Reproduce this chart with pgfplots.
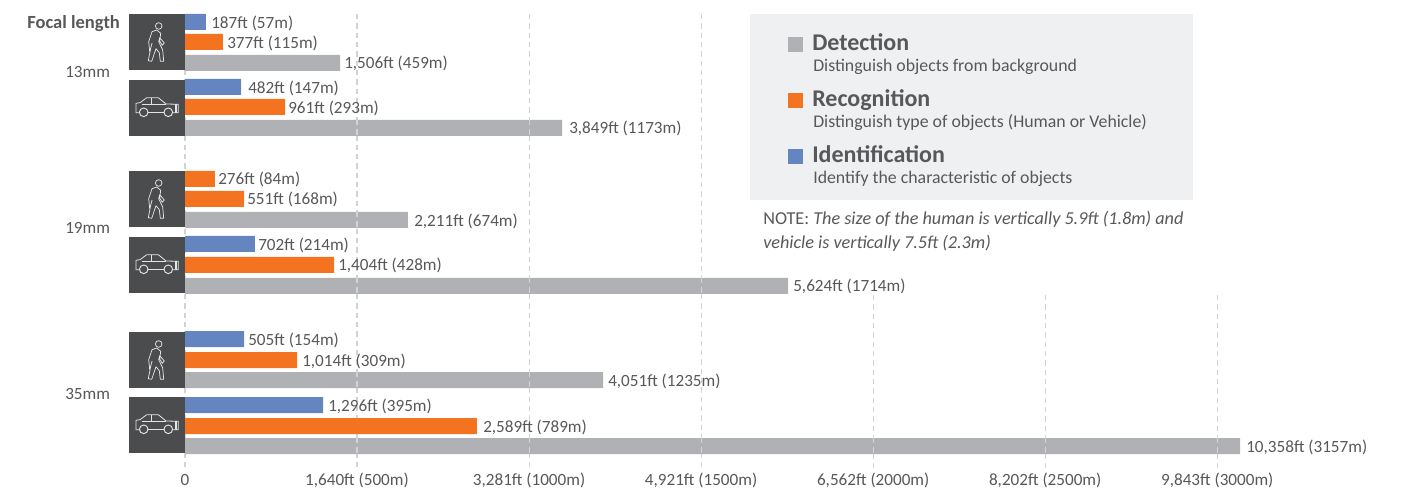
\documentclass[border=0pt]{standalone}
\usepackage{pgfplots}
\pgfplotsset{compat=1.18}
\usepackage{fontspec}
\setmainfont{Carlito}
\definecolor{cblue}{HTML}{6585C1}
\definecolor{corange}{HTML}{F47320}
\definecolor{cgrey}{HTML}{B0B1B4}
\definecolor{cdark}{HTML}{4B4C4E}
\definecolor{ctext}{HTML}{58585A}
\definecolor{cpanel}{HTML}{EFF0F2}
\definecolor{cgrid}{HTML}{D2D3D5}
\newcommand\lblfont{\fontsize{12.85pt}{15pt}\selectfont\color{ctext}}
\newcommand\subfont{\fontsize{13.35pt}{15pt}\selectfont}
\newcommand\notefont{\fontsize{13.65pt}{15pt}\selectfont}
\newcommand\Txt[3]{\node[anchor=base west,inner sep=0pt,font=\lblfont] at ({#1*0.75pt},{(491-#2-0.7)*0.75pt}) {#3};}
\newcommand\Person[2]{\begin{scope}[shift={({#1*0.75pt},{(491-#2)*0.75pt})},x=0.75pt,y=-0.75pt]
\fill[cdark] (0,0) rectangle (56,56);
\draw[white!90!black,line width=0.55pt,line join=round] (29.7,12) circle (3.3);
\draw[white!90!black,line width=0.55pt,line join=round] (27.7,16)--(23,17.7)--(19.7,27.7)--(20.7,37.7)--(23,29.3)--(21.7,34.3)--(19.3,46.7)--(22.7,47.3)--(27,34.7)--(30.3,38.7)--(31.3,47.3)--(34.7,47.3)--(33.7,36)--(29.7,27.7)--(30.7,23.7)--(35.3,29)--(33.3,31.3)--(30.7,27)--(31.7,19.3)--cycle;
\end{scope}}
\newcommand\Car[2]{\begin{scope}[shift={({#1*0.75pt},{(491-#2)*0.75pt})},x=0.75pt,y=-0.75pt]
\fill[cdark] (0,0) rectangle (56,56);
\draw[white!90!black,line width=0.6pt,line join=round] (10.2,32.7)--(7,32.7)--(7,23.3)--(11,22.7)--(17.7,17.7)--(29.3,17.7)--(37,24)--(49.3,24.3)--(49.3,32.7)--(44,32.7);
\draw[white!90!black,line width=0.6pt] (19.2,32.7)--(34.8,32.7) (12.7,24)--(37,24) (22.7,18)--(22.7,24) (46,24.3)--(46,32.7) (47.6,24.3)--(47.6,32.7);
\draw[white!90!black,line width=0.7pt] (14.7,32.3) circle (4.3) (39.3,32.3) circle (4.3);
\end{scope}}
\begin{document}
\begin{tikzpicture}
\path[use as bounding box] (0,0) rectangle (1050.75pt,368.25pt);
% Bar lengths are read off the drawn bars against the gridlines; the printed labels
% give the nominal figures, and the reference's bars are not exactly to scale with them.
\begin{axis}[
  at={(0,0)},anchor=south west,
  scale only axis,width=1050.75pt,height=368.25pt,
  xmin=-1764.1,xmax=11595.3,
  ymin=0,ymax=491,y dir=reverse,
  axis line style={draw=none},
  tick style={draw=none},
  ytick=\empty,
  scaled x ticks=false,
  xtick={0,1640,3281,4921,6562,8202,9843},
  xticklabels={0,{1,640ft (500m)},{3,281ft (1000m)},{4,921ft (1500m)},{6,562ft (2000m)},{8,202ft (2500m)},{9,843ft (3000m)}},
  x tick label style={font=\lblfont,anchor=base,yshift=3.9pt,inner sep=0pt},
  clip=false,unbounded coords=jump,
]
\addplot[cgrid,line width=0.8pt,dash pattern=on 4pt off 3pt] coordinates {(0,14)(0,470)};
\addplot[cgrid,line width=0.8pt,dash pattern=on 4pt off 3pt] coordinates {(1640,14)(1640,470)};
\addplot[cgrid,line width=0.8pt,dash pattern=on 4pt off 3pt] coordinates {(3281,14)(3281,470)};
\addplot[cgrid,line width=0.8pt,dash pattern=on 4pt off 3pt] coordinates {(4921,14)(4921,470)};
\addplot[cgrid,line width=0.8pt,dash pattern=on 4pt off 3pt] coordinates {(6562,295)(6562,470)};
\addplot[cgrid,line width=0.8pt,dash pattern=on 4pt off 3pt] coordinates {(8202,295)(8202,470)};
\addplot[cgrid,line width=0.8pt,dash pattern=on 4pt off 3pt] coordinates {(9843,295)(9843,470)};
\addplot[xbar,bar shift=0pt,bar width=12pt,draw=none,fill=cblue] coordinates {(200,22)(534,87)(667,244)(563,339)(1316,405)};
\addplot[xbar,bar shift=0pt,bar width=12pt,draw=none,fill=corange] coordinates {(362,42)(954,107)(286,179)(563,199)(1421,265)(1068,360)(2784,426)};
\addplot[xbar,bar shift=0pt,bar width=12pt,draw=none,fill=cgrey] coordinates {(1478,63)(3595,128)(2126,220)(5750,286)(3986,380)(10060,446)};
\addplot[cgrid,line width=0.8pt,dash pattern=on 4pt off 3pt] coordinates {(1640,120)(1640,136)(1640,nan)(3281,120)(3281,136)(3281,nan)(1640,212)(1640,228)(1640,nan)(1640,278)(1640,294)(1640,nan)(3281,278)(3281,294)(3281,nan)(4921,278)(4921,294)(4921,nan)(1640,372)(1640,388)(1640,nan)(3281,372)(3281,388)(3281,nan)(1640,438)(1640,454)(1640,nan)(3281,438)(3281,454)(3281,nan)(4921,438)(4921,454)(4921,nan)(6562,438)(6562,454)(6562,nan)(8202,438)(8202,454)(8202,nan)(9843,438)(9843,454)};
\end{axis}
\Person{129}{14}\Car{129}{80}\Person{129}{171}\Car{129}{237}\Person{129}{332}\Car{129}{397}
\Txt{211}{28}{187ft (57m)}\Txt{227}{48}{377ft (115m)}\Txt{344}{68}{1,506ft (459m)}
\Txt{248}{93}{482ft (147m)}\Txt{288}{113}{961ft (293m)}\Txt{569}{133}{3,849ft (1173m)}
\Txt{218}{184}{276ft (84m)}\Txt{247}{204}{551ft (168m)}\Txt{414}{226}{2,211ft (674m)}
\Txt{258}{250}{702ft (214m)}\Txt{338}{270}{1,404ft (428m)}\Txt{793}{291}{5,624ft (1714m)}
\Txt{248}{345}{505ft (154m)}\Txt{302}{366}{1,014ft (309m)}\Txt{608}{386}{4,051ft (1235m)}
\Txt{328}{411}{1,296ft (395m)}\Txt{483}{432}{2,589ft (789m)}\Txt{1246}{452}{10,358ft (3157m)}
\Txt{27}{28}{\fontsize{13.9pt}{15pt}\selectfont\bfseries Focal length}
\Txt{65}{77}{13mm}\Txt{65}{233}{19mm}\Txt{65}{399}{35mm}
\fill[cpanel] ({750*0.75pt},{(491-14)*0.75pt}) rectangle ({1193*0.75pt},{(491-200)*0.75pt});
\fill[cgrey] ({788*0.75pt},{(491-37)*0.75pt}) rectangle ({803*0.75pt},{(491-52)*0.75pt});
\fill[corange] ({788*0.75pt},{(491-93)*0.75pt}) rectangle ({803*0.75pt},{(491-108)*0.75pt});
\fill[cblue] ({788*0.75pt},{(491-149)*0.75pt}) rectangle ({803*0.75pt},{(491-164)*0.75pt});
\Txt{812}{50}{\fontsize{18pt}{20pt}\selectfont\bfseries Detection}
\Txt{813}{71}{\subfont Distinguish objects from background}
\Txt{812}{106}{\fontsize{18pt}{20pt}\selectfont\bfseries Recognition}
\Txt{813}{127}{\subfont Distinguish type of objects (Human or Vehicle)}
\Txt{812}{162}{\fontsize{18pt}{20pt}\selectfont\bfseries Identification}
\Txt{813}{183}{\subfont Identify the characteristic of objects}
\Txt{763}{224}{\notefont NOTE: \itshape The size of the human is vertically 5.9ft (1.8m) and}
\Txt{763}{248}{\notefont\itshape vehicle is vertically 7.5ft (2.3m)}
\end{tikzpicture}
\end{document}
